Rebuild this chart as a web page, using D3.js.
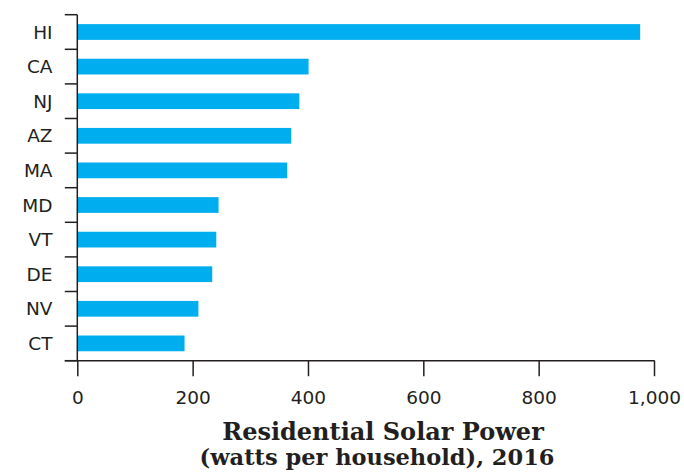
<!DOCTYPE html>
<html>
<head>
<meta charset="utf-8">
<script src="https://cdn.jsdelivr.net/npm/d3@7"></script>
<style>
  html, body { margin: 0; padding: 0; background: #ffffff; }
  svg { display: block; }
</style>
</head>
<body>
<svg id="chart" width="684" height="474"></svg>
<script>
const states = ["HI", "CA", "NJ", "AZ", "MA", "MD", "VT", "DE", "NV", "CT"];
const watts = [976, 401, 385, 371, 364, 245, 241, 234, 210, 186];
const xTicks = [0, 200, 400, 600, 800, 1000];
const titleLines = ["Residential Solar Power", "(watts per household), 2016"];

const ink = "#231f20";
const barColor = "#00aeef";

const svg = d3.select("#chart");
const mLeft = 77.3, mRight = 654, mTop = 14.7, mBottom = 360.7;

const x = d3.scaleLinear().domain([0, 1000]).range([mLeft, mRight]);
const y = d3.scaleBand().domain(states).range([mTop, mBottom])
  .paddingInner(0.545).paddingOuter(0.2725);

// bars
svg.append("g").selectAll("rect")
  .data(states.map((s, i) => ({ s, v: watts[i] })))
  .join("rect")
  .attr("x", x(0))
  .attr("y", d => y(d.s))
  .attr("width", d => x(d.v) - x(0))
  .attr("height", y.bandwidth())
  .attr("fill", barColor);

// y axis with boundary ticks
const step = y.step();
const boundaries = states.map(s => y(s) + y.bandwidth() / 2 - step / 2).concat([mBottom]);
const ya = svg.append("g");
ya.append("line").attr("x1", mLeft).attr("x2", mLeft).attr("y1", mTop).attr("y2", mBottom)
  .attr("stroke", ink).attr("stroke-width", 1.5);
ya.selectAll("line.tk").data(boundaries).join("line").attr("class", "tk")
  .attr("x1", mLeft - 12.5).attr("x2", mLeft).attr("y1", d => d).attr("y2", d => d)
  .attr("stroke", ink).attr("stroke-width", 1.5);
ya.selectAll("text").data(states).join("text")
  .attr("x", 52.5)
  .attr("y", d => y(d) + y.bandwidth() / 2)
  .attr("dy", "0.36em")
  .attr("text-anchor", "end")
  .attr("font-family", "DejaVu Sans, sans-serif")
  .attr("font-size", 18.5)
  .attr("fill", ink)
  .text(d => d);

// x axis
const xAxis = d3.axisBottom(x).tickValues(xTicks).tickSize(15.5).tickPadding(15)
  .tickFormat(d3.format(","));
const xg = svg.append("g").attr("transform", `translate(0,${mBottom})`).call(xAxis);
xg.select(".domain").remove();
xg.selectAll(".tick line").attr("stroke", ink).attr("stroke-width", 1.5);
xg.selectAll(".tick text")
  .attr("font-family", "DejaVu Sans, sans-serif")
  .attr("font-size", 18.5)
  .attr("fill", ink);
svg.append("line").attr("x1", mLeft - 12.5).attr("x2", mRight + 0.75)
  .attr("y1", mBottom).attr("y2", mBottom)
  .attr("stroke", ink).attr("stroke-width", 1.5);

// title
svg.append("g").selectAll("text").data(titleLines).join("text")
  .attr("x", (d, i) => i === 0 ? 383 : 377)
  .attr("y", (d, i) => 439.5 + i * 25)
  .attr("text-anchor", "middle")
  .attr("font-family", "DejaVu Serif, serif")
  .attr("font-weight", "bold")
  .attr("font-size", (d, i) => i === 0 ? 24 : 22.5)
  .attr("fill", ink)
  .text(d => d);
</script>
</body>
</html>
